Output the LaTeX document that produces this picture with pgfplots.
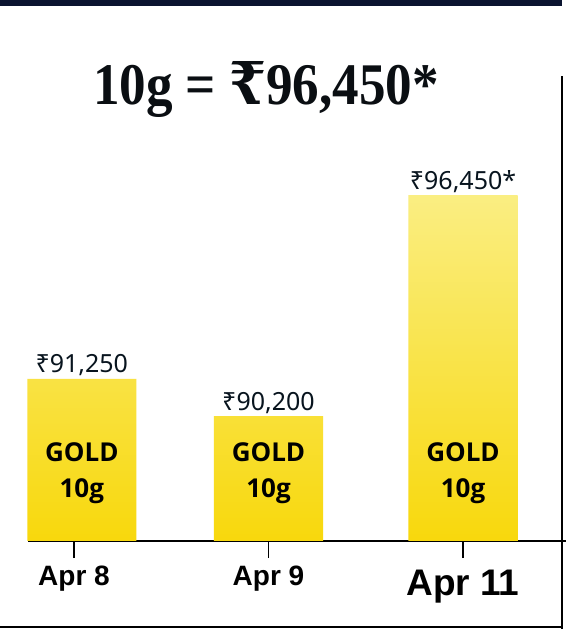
\documentclass[border=0pt]{standalone}
\usepackage{fontspec}
\usepackage{graphicx}
\usepackage{pgfplots}
\pgfplotsset{compat=1.18}
\setmainfont{Noto Sans}
\newfontfamily\lblfont{Noto Sans}
\newfontfamily\goldfont{Open Sans}
\newfontfamily\tickfont{Liberation Sans}
\newfontfamily\titlefont{Liberation Serif}
\newfontfamily\rupeefont{DejaVu Serif}

\definecolor{bandnavy}{RGB}{11,20,48}
\definecolor{inkdark}{RGB}{8,20,30}
\definecolor{titleink}{RGB}{10,14,18}
\definecolor{goldtop}{RGB}{250,238,130}
\definecolor{goldmid}{RGB}{252,227,18}
\definecolor{goldbot}{RGB}{248,216,12}

\tikzset{barlbl/.style={anchor=base, inner sep=0pt, text=black,
  font=\goldfont\bfseries\fontsize{26}{26}\selectfont}}

\begin{document}
\begin{tikzpicture}[x=1pt,y=1pt]
\useasboundingbox (0,0) rectangle (566,629);
\fill[white] (0,0) rectangle (566,629);
% frame pieces
\fill[bandnavy] (0,623) rectangle (562,629);
\draw[line width=2pt, black] (562,0) -- (562,553);
\draw[line width=2pt, black] (0,2) -- (562,2);
% headline
\node[anchor=base, text=titleink, inner sep=0pt] at (266,524)
  {\scalebox{0.9}[1]{\titlefont\bfseries\fontsize{59}{59}\selectfont 10g = {\rupeefont\bfseries ₹}96,450*}};

\begin{axis}[
  at={(28pt,88pt)}, anchor=south west,
  scale only axis, width=538pt, height=464pt,
  xmin=-0.2365, xmax=2.5296,
  ymin=86670, ymax=99788,
  axis y line=none,
  axis x line*=bottom,
  x axis line style={line width=1.4pt, black},
  xtick={0,1,2},
  xticklabels={Apr 8, Apr 9, {\raisebox{-10pt}{\fontsize{37}{37}\selectfont Apr 11}}},
  xtick align=outside,
  major tick length=17pt,
  xtick style={line width=1.4pt, black},
  xticklabel style={font=\tickfont\bfseries\fontsize{28}{28}\selectfont, anchor=base, yshift=-27pt, text=black},
  clip=false,
]
\addplot[ybar, bar width=109pt, draw=none,
  top color=goldtop, middle color=goldmid, bottom color=goldbot,
  point meta=explicit symbolic,
  nodes near coords={\pgfplotspointmeta},
  every node near coord/.style={anchor=base, yshift=6pt, inner sep=0pt,
    text=inkdark, font=\lblfont\fontsize{25}{25}\selectfont}]
  coordinates {
    (0.04,91250) [₹91,250]
    (1.00,90200) [₹90,200]
    (2.00,96450) [₹96,450*]
  };
% labels printed on each bar
\node[barlbl] at (axis cs:0.04,88904) {GOLD};
\node[barlbl] at (axis cs:0.04,87886) {10g};
\node[barlbl] at (axis cs:1.00,88904) {GOLD};
\node[barlbl] at (axis cs:1.00,87886) {10g};
\node[barlbl] at (axis cs:2.00,88904) {GOLD};
\node[barlbl] at (axis cs:2.00,87886) {10g};
\end{axis}
\end{tikzpicture}
\end{document}
